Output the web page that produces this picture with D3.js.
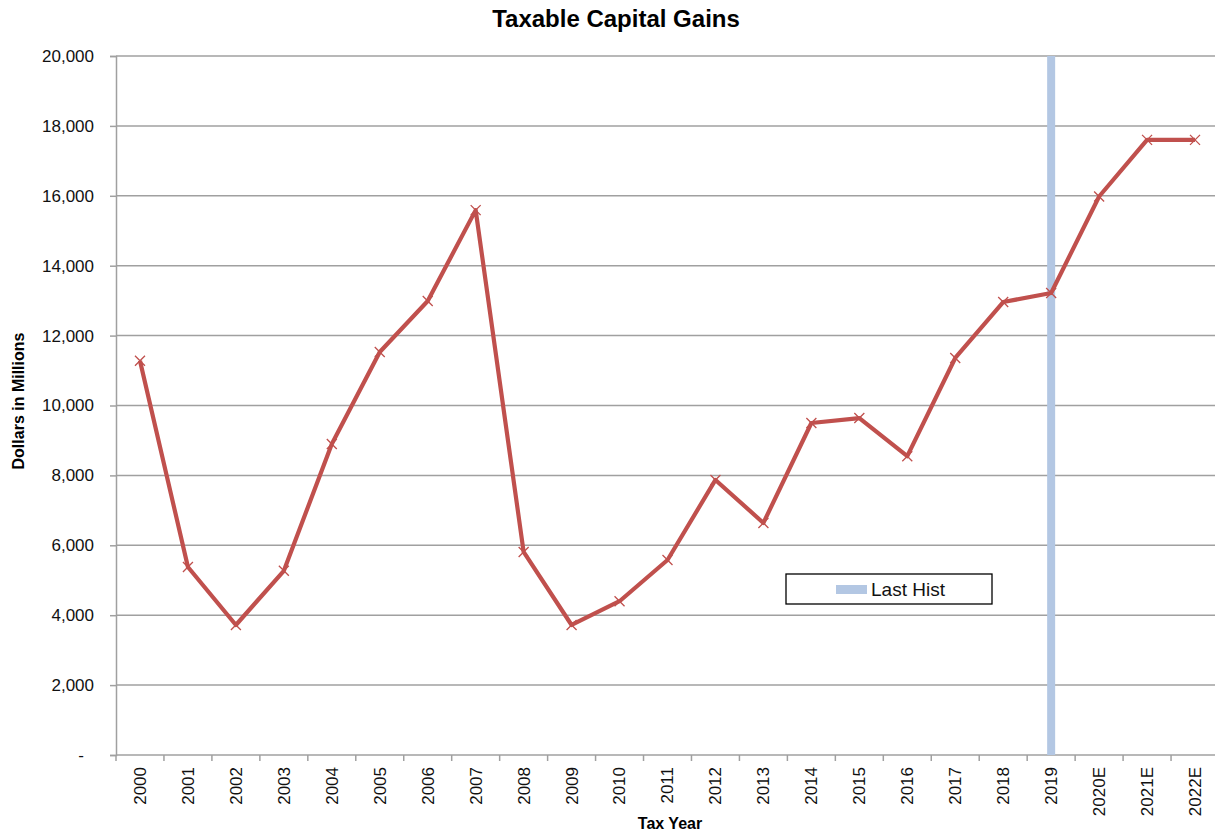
<!DOCTYPE html>
<html>
<head>
<meta charset="utf-8">
<script src="https://cdn.jsdelivr.net/npm/d3@7"></script>
<style>
  body { margin: 0; background: #fff; }
  text { font-family: "Liberation Sans", Arial, sans-serif; }
</style>
</head>
<body>
<div id="chart"></div>
<script>
// data
const years = ["2000","2001","2002","2003","2004","2005","2006","2007","2008","2009","2010",
  "2011","2012","2013","2014","2015","2016","2017","2018","2019","2020E","2021E","2022E"];
const gains = [11280, 5380, 3720, 5270, 8900, 11530, 12990, 15590, 5810, 3720, 4400,
  5580, 7870, 6640, 9500, 9640, 8550, 11360, 12960, 13220, 15980, 17600, 17600];
const lastHistYear = "2019";
const lastHistValue = 20000;
const yTicks = [0, 2000, 4000, 6000, 8000, 10000, 12000, 14000, 16000, 18000, 20000];

const width = 1215, height = 834;
const margin = {top: 56, left: 116, bottom: 79};
const plotRight = 1219;
const red = "#c0504d";
const blue = "#b3c7e3";
const grid = "#a0a0a0";

const svg = d3.select("#chart").append("svg")
  .attr("width", width).attr("height", height);

const x = d3.scaleBand().domain(years).range([margin.left, plotRight]);
const y = d3.scaleLinear().domain([0, 20000]).range([height - margin.bottom, margin.top]);

// gridlines
svg.append("g").selectAll("line")
  .data(yTicks.slice(1))
  .join("line")
  .attr("x1", margin.left).attr("x2", width)
  .attr("y1", d => y(d)).attr("y2", d => y(d))
  .attr("stroke", grid).attr("stroke-width", 1.5);

// y axis
const fmt = d3.format(",");
const yAxis = svg.append("g")
  .attr("transform", `translate(${margin.left},0)`)
  .call(d3.axisLeft(y).tickValues(yTicks).tickSize(6).tickPadding(16)
    .tickFormat(d => d === 0 ? "-" : fmt(d)));
yAxis.select(".domain").attr("stroke", grid).attr("stroke-width", 1.5);
yAxis.selectAll(".tick line").attr("stroke", grid).attr("stroke-width", 1.5);
yAxis.selectAll("text").attr("font-size", 17).attr("fill", "#111")
  .attr("dx", d => d === 0 ? -10 : 0);

// x axis with ticks on band boundaries
const xAxisG = svg.append("g")
  .attr("transform", `translate(0,${y(0)})`);
xAxisG.append("line")
  .attr("x1", margin.left).attr("x2", width)
  .attr("stroke", grid).attr("stroke-width", 1.5);
xAxisG.selectAll("line.tk")
  .data(years)
  .join("line")
  .attr("class", "tk")
  .attr("x1", d => x(d)).attr("x2", d => x(d))
  .attr("y1", 0).attr("y2", 6)
  .attr("stroke", grid).attr("stroke-width", 1.5);
xAxisG.selectAll("text")
  .data(years)
  .join("text")
  .attr("transform", d => `translate(${x(d) + x.bandwidth() / 2},12) rotate(-90)`)
  .attr("text-anchor", "end")
  .attr("dy", "0.35em")
  .attr("font-size", 17)
  .attr("fill", "#111")
  .text(d => d);

// last historical year marker
svg.append("rect")
  .attr("x", x(lastHistYear) + x.bandwidth() / 2 - 4)
  .attr("width", 8)
  .attr("y", y(lastHistValue))
  .attr("height", y(0) - y(lastHistValue))
  .attr("fill", blue);

// line
const line = d3.line()
  .x((d, i) => x(years[i]) + x.bandwidth() / 2)
  .y(d => y(d));
svg.append("path")
  .datum(gains)
  .attr("d", line)
  .attr("fill", "none")
  .attr("stroke", red)
  .attr("stroke-width", 4.2)
  .attr("stroke-linejoin", "round");

// x markers
const m = 5;
svg.append("g").selectAll("path")
  .data(gains)
  .join("path")
  .attr("d", (d, i) => {
    const cx = x(years[i]) + x.bandwidth() / 2, cy = y(d);
    return `M${cx - m},${cy - m}L${cx + m},${cy + m}M${cx - m},${cy + m}L${cx + m},${cy - m}`;
  })
  .attr("stroke", red)
  .attr("stroke-width", 1.3)
  .attr("fill", "none");

// legend
const lg = svg.append("g").attr("transform", "translate(786,574)");
lg.append("rect").attr("width", 206).attr("height", 30)
  .attr("fill", "#fff").attr("stroke", "#000").attr("stroke-width", 1.3);
lg.append("rect").attr("x", 50).attr("y", 11).attr("width", 31).attr("height", 9)
  .attr("fill", blue);
lg.append("text").attr("x", 85).attr("y", 22)
  .attr("font-size", 19).attr("fill", "#111").text("Last Hist");

// titles
svg.append("text")
  .attr("x", 616).attr("y", 27)
  .attr("text-anchor", "middle")
  .attr("font-size", 24).attr("font-weight", 700)
  .text("Taxable Capital Gains");

svg.append("text")
  .attr("transform", "translate(24,401) rotate(-90)")
  .attr("text-anchor", "middle")
  .attr("font-size", 16).attr("font-weight", 700)
  .text("Dollars in Millions");

svg.append("text")
  .attr("x", 670).attr("y", 829)
  .attr("text-anchor", "middle")
  .attr("font-size", 16).attr("font-weight", 700)
  .text("Tax Year");
</script>
</body>
</html>
